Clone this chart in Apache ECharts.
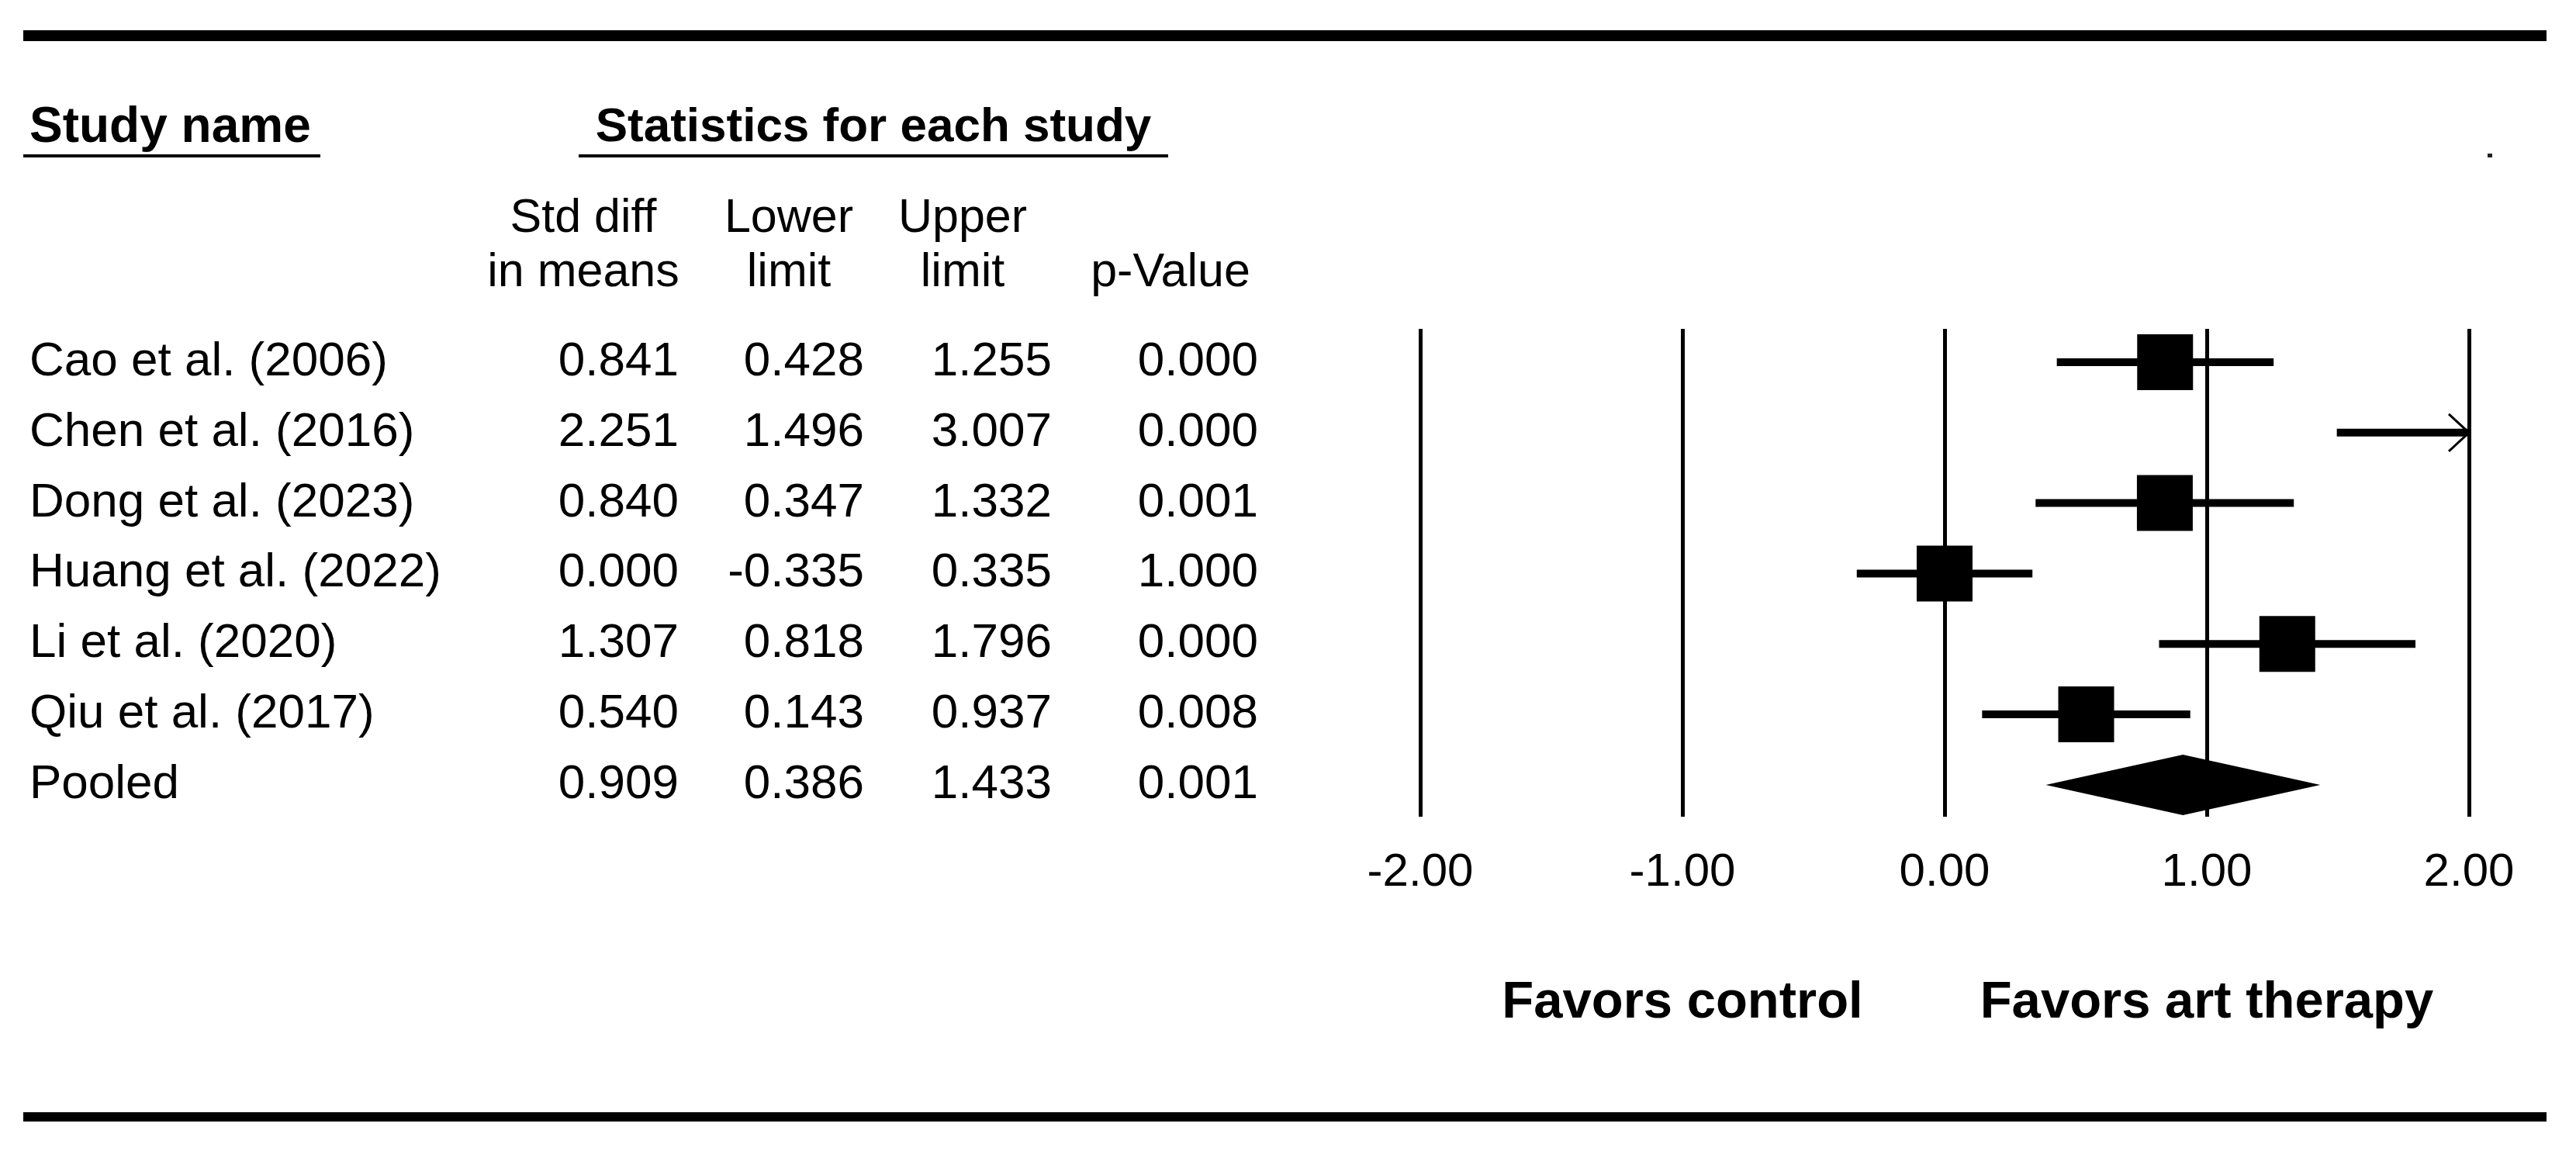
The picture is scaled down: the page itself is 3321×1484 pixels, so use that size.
<!DOCTYPE html>
<html><head><meta charset="utf-8">
<script src="https://cdn.jsdelivr.net/npm/echarts@6/dist/echarts.min.js"></script>
<style>html,body{margin:0;padding:0;background:#fff}#c{width:3321px;height:1484px}</style>
</head><body><div id="c"></div>
<script>
// ---- data ----
const studies = ['Cao et al. (2006)', 'Chen et al. (2016)', 'Dong et al. (2023)', 'Huang et al. (2022)', 'Li et al. (2020)', 'Qiu et al. (2017)'];
const stdDiff = [0.841, 2.251, 0.840, 0.000, 1.307, 0.540];
const lowerLimit = [0.428, 1.496, 0.347, -0.335, 0.818, 0.143];
const upperLimit = [1.255, 3.007, 1.332, 0.335, 1.796, 0.937];
const pValues = [0.000, 0.000, 0.001, 1.000, 0.000, 0.008];
const pooledLabel = 'Pooled';
const pooledStats = [0.909, 0.386, 1.433];   // est, lower, upper
const pooledP = 0.001;
const axisTicks = [-2, -1, 0, 1, 2];
const colHeaders = [['Std diff', 'in means'], ['Lower', 'limit'], ['Upper', 'limit'], ['', 'p-Value']];
const sideLabels = ['Favors control', 'Favors art therapy'];
const sideLabelAt = [-1, 1];

// ---- layout ----
const FONT = '"Liberation Sans", Arial, sans-serif';
const rowY0 = 467, rowStep = 90.8;
const nameX = 38;
const colRight = [875, 1114, 1356, 1622];
const colHeadCenter = [752, 1017, 1241, 1509];
const gridLeft = 1831, gridWidth = 1352, gridTop = 424, gridHeight = 629;
const yMin = -0.473, yMax = 6.452;
const xMin = axisTicks[0], xMax = axisTicks[axisTicks.length - 1];

const graphics = [];
// rules
graphics.push({type:'rect', shape:{x:30, y:39, width:3253, height:14}, style:{fill:'#000'}});
graphics.push({type:'rect', shape:{x:30, y:1434, width:3253, height:12}, style:{fill:'#000'}});
// headers
graphics.push({type:'text', x:nameX, y:165, style:{text:'Study name', fill:'#000', fontSize:64, fontWeight:'bold', fontFamily:FONT, textAlign:'left', textVerticalAlign:'middle'}});
graphics.push({type:'rect', shape:{x:30, y:199, width:383, height:4}, style:{fill:'#000'}});
graphics.push({type:'text', x:1126, y:165, style:{text:'Statistics for each study', fill:'#000', fontSize:62, fontWeight:'bold', fontFamily:FONT, textAlign:'center', textVerticalAlign:'middle'}});
graphics.push({type:'rect', shape:{x:746, y:199, width:760, height:4}, style:{fill:'#000'}});
colHeaders.forEach((h, j) => {
  h.forEach((t, k) => {
    if (!t) return;
    graphics.push({type:'text', x:colHeadCenter[j], y:k === 0 ? 282 : 352, style:{text:t, fill:'#000', fontSize:61, fontFamily:FONT, textAlign:'center', textVerticalAlign:'middle'}});
  });
});
// table rows
const rowsText = studies.map((s, i) => [s, stdDiff[i], lowerLimit[i], upperLimit[i], pValues[i]]);
rowsText.push([pooledLabel, pooledStats[0], pooledStats[1], pooledStats[2], pooledP]);
rowsText.forEach((r, i) => {
  const y = rowY0 + rowStep * i;
  graphics.push({type:'text', x:nameX, y:y, style:{text:r[0], fill:'#000', fontSize:62, fontFamily:FONT, textAlign:'left', textVerticalAlign:'middle'}});
  for (let j = 0; j < 4; j++) {
    graphics.push({type:'text', x:colRight[j], y:y, style:{text:r[j + 1].toFixed(3), fill:'#000', fontSize:62, fontFamily:FONT, textAlign:'right', textVerticalAlign:'middle'}});
  }
});
// small artifact mark top right
graphics.push({type:'rect', shape:{x:3207, y:198, width:6, height:5}, style:{fill:'#222'}});

const ciData = studies.map((s, i) => [lowerLimit[i], upperLimit[i], i]);
const pointData = studies.map((s, i) => [stdDiff[i], i]);
const pooledRow = studies.length;

const chart = echarts.init(document.getElementById('c'), null, {renderer:'canvas'});
chart.setOption({
  backgroundColor:'#fff',
  animation:false,
  grid:{left:gridLeft, top:gridTop, width:gridWidth, height:gridHeight},
  xAxis:{type:'value', min:xMin, max:xMax, interval:1,
    axisLine:{show:false}, axisTick:{show:false},
    splitLine:{show:true, lineStyle:{color:'#000', width:5}},
    axisLabel:{formatter:v => v.toFixed(2), fontSize:60, color:'#000', fontFamily:FONT, margin:42}},
  yAxis:{type:'value', min:yMin, max:yMax, inverse:true, show:false, splitLine:{show:false}},
  graphic:graphics.concat(sideLabels.map((t, k) => ({type:'text', x:gridLeft + (sideLabelAt[k] - xMin) / (xMax - xMin) * gridWidth, y:1294,
    style:{text:t, fill:'#000', fontSize:67, fontWeight:'bold', fontFamily:FONT, textAlign:'center', textVerticalAlign:'middle'}}))),
  series:[
    {type:'custom', data:ciData, clip:false, z:3,
      renderItem:(params, api) => {
        const lo = api.value(0), hi = api.value(1), row = api.value(2);
        const p1 = api.coord([Math.max(lo, xMin), row]);
        const p2 = api.coord([Math.min(hi, xMax), row]);
        const children = [{type:'line', shape:{x1:p1[0], y1:p1[1], x2:p2[0], y2:p2[1]}, style:{stroke:'#000', lineWidth:10}}];
        if (hi > xMax) {
          children.push({type:'polyline', shape:{points:[[p2[0] - 26, p2[1] - 24], [p2[0], p2[1]], [p2[0] - 26, p2[1] + 24]]}, style:{stroke:'#000', lineWidth:3, fill:null}});
        }
        if (lo < xMin) {
          children.push({type:'polyline', shape:{points:[[p1[0] + 26, p1[1] - 24], [p1[0], p1[1]], [p1[0] + 26, p1[1] + 24]]}, style:{stroke:'#000', lineWidth:3, fill:null}});
        }
        return {type:'group', children};
      }},
    {type:'scatter', data:pointData, symbol:'rect', symbolSize:72, clip:true, z:4, itemStyle:{color:'#000', opacity:1}},
    {type:'custom', data:[[pooledStats[1], pooledStats[0], pooledStats[2], pooledRow]], z:4,
      renderItem:(params, api) => {
        const row = api.value(3);
        const a = api.coord([api.value(0), row]), c = api.coord([api.value(1), row]), b = api.coord([api.value(2), row]);
        const h = 39;
        return {type:'polygon', shape:{points:[[a[0], a[1]], [c[0], c[1] - h], [b[0], b[1]], [c[0], c[1] + h]]}, style:{fill:'#000'}};
      }}
  ]
});
</script></body></html>
